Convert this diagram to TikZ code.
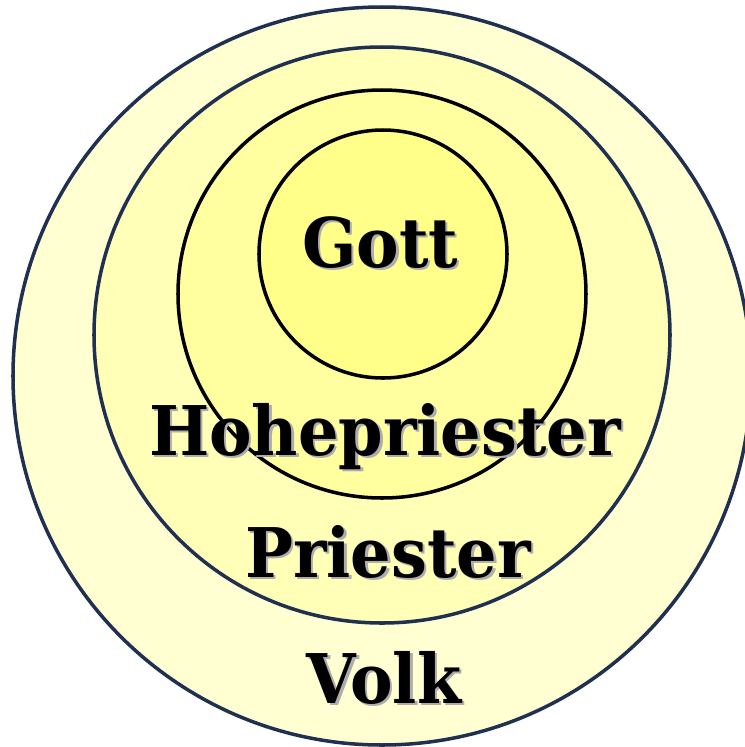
\documentclass[tikz,border=0pt]{standalone}
\usepackage{fontspec}
\newfontfamily\ringfont[FakeStretch=0.93]{DejaVu Serif}
\usetikzlibrary{positioning}

\begin{document}
\begin{tikzpicture}
    % Define colors
    \definecolor{volkcolor}{RGB}{255, 255, 210}
    \definecolor{priestcolor}{RGB}{255, 255, 184}
    \definecolor{hohecolor}{RGB}{255, 255, 160}
    \definecolor{gottcolor}{RGB}{255, 255, 138}
    \definecolor{rimcolor}{RGB}{31, 48, 80}

    \tikzset{
        ring/.style={circle, inner sep=0pt, line width=2pt},
        label/.style={anchor=base, font=\ringfont\bfseries\fontsize{39}{40}\selectfont},
        shadow/.style={label, text=black!32}
    }

    \useasboundingbox (0,0) rectangle (14.88,-14.94);

    % Rings, from outside to inside
    \node[ring, draw=rimcolor, fill=volkcolor, minimum size=14.76cm] (volk) at (7.64,-7.52) {};
    \node[ring, draw=rimcolor, fill=priestcolor, minimum size=11.52cm] (priester) at (7.64,-6.70) {};
    \node[ring, draw=black, fill=hohecolor, minimum size=8.16cm] (hohe) at (7.64,-5.88) {};
    \node[ring, draw=black, fill=gottcolor, minimum size=4.96cm] (gott) at (7.66,-5.08) {};

    % Shadows of the labels
    \node[shadow] (gottshadow) at (7.65,-5.39) {Gott};
    \node[shadow] (hoheshadow) at (7.75,-9.15) {Hohepriester};
    \node[shadow] (priestershadow) at (7.81,-11.59) {Priester};
    \node[shadow] (volkshadow) at (7.73,-14.11) {Volk};

    % Labels
    \node[label] (gottlabel) at (7.60,-5.34) {Gott};
    \node[label] (hohelabel) at (7.70,-9.10) {Hohepriester};
    \node[label] (priesterlabel) at (7.76,-11.54) {Priester};
    \node[label] (volklabel) at (7.68,-14.06) {Volk};

\end{tikzpicture}
\end{document}
